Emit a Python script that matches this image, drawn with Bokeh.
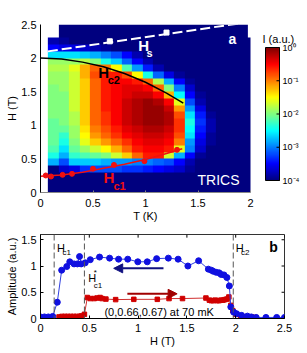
import numpy as np
from bokeh.plotting import figure
from bokeh.models import (LinearColorMapper, FixedTicker, Span, Arrow,
                          NormalHead, NumeralTickFormatter, Range1d, Label)
from bokeh.core.properties import value
from bokeh.layouts import column, row
from bokeh.embed import file_html
from bokeh.resources import INLINE

FONT = "Liberation Sans"

# ---------------- panel a data ----------------
# log10 intensity (x10) on a grid: columns T = 0.12 .. 2.02 (step 0.1), rows H = 0.05 .. 2.45 (step 0.1)
N = None
log_int_x10 = [
    [-40,-40,-40,-40,-40,-40,-40,-40,-40,-40,-40,-40,-40,-40,-40,-40,-40,-40,-40,-40],
    [-40,-40,-40,-40,-40,-40,-40,-40,-40,-40,-40,-40,-40,-40,-40,-40,-40,-40,-40,-40],
    [-40,-40,-40,-40,-40,-40,-40,-40,-40,-40,-40,-40,-40,-40,-40,-40,-40,-40,-40,-40],
    [-40,-37,-36,-33,-32,-32,-32,-33,-33,-34,-35,-36,-37,-39,-40,-40,-40,-40,-40,-40],
    [-28,-32,-27,-27,-27,-28,-29,-29,-30,-30,-31,-32,-35,-38,-40,-40,-40,-40,-40,-40],
    [-24,-28,-23,-22,-21,-20,-17,-13, -9, -6, -6,-17,-28,-35,-39,-40,-40,-40,-40,-40],
    [-22,-26,-21,-19,-17,-15,-12, -9, -6, -5, -5, -6,-16,-30,-37,-40,-40,-40,-40,-40],
    [-21,-24,-20,-16,-13,-11, -9, -7, -5, -4, -4, -5,-10,-29,-36,-39,-40,-40,-40,-40],
    [-21,-23,-19,-15,-11, -9, -7, -5, -4, -3, -3, -4, -8,-26,-35,-39,-40,-40,-40,-40],
    [-21,-21,-19,-14,-10, -8, -6, -4, -3, -2, -2, -3, -7,-25,-34,-38,-40,-40,-40,-40],
    [-21,-20,-18,-13, -9, -7, -5, -3, -2, -1, -1, -2, -7,-24,-33,-38,-40,-40,-40,-40],
    [-20,-20,-18,-13, -9, -7, -5, -3, -2, -1, -1, -2, -8,-26,-34,-39,-40,-40,-40,-40],
    [-20,-20,-17,-13, -9, -6, -5, -3, -2, -1, -1, -3,-11,-29,-36,-40,-40,-40,-40,-40],
    [-20,-20,-17,-13, -9, -6, -5, -3, -2, -1, -2, -5,-16,-32,-38,-40,-40,-40,-40,-40],
    [-20,-20,-17,-13, -9, -6, -5, -4, -3, -3, -5,-12,-25,-35,-39,-40,-40,-40,-40,-40],
    [-20,-19,-17,-13, -9, -6, -5, -4, -4, -5, -9,-20,-30,-37,-40,-40,-40,-40,-40,-40],
    [-19,-19,-17,-13, -9, -6, -5, -5, -6, -9,-18,-28,-35,-39,-40,-40,-40,-40,-40,-40],
    [-19,-19,-17,-12, -8, -6, -6, -8,-15,-24,-31,-36,-39,-40,-40,-40,-40,-40,-40,-40],
    [-18,-18,-16,-12, -9,-10,-15,-22,-29,-34,-38,-40,-40,-40,-40,-40,-40,-40,-40,-40],
    [-19,-19,-19,-18,-20,-24,-27,-31,-35,-38,-40,-40,-40,-40,-40,-40,-40,-40,-40,-40],
    [-26,-26,-26,-27,-28,-30,-32,-35,-38,-40,-40,-40,-40,-40,-40,-40,-40,-40,-40,-40],
    [-35,-36,-36,-37,-38,-39,-40,-40,-40,-40,-40,-40,-40,-40,-40,-40,-40,-40,-40,-40],
    [-38,-39,-40,-40,-40,-40,-40,-40,-40,-40,-40,-40,-40,-40,-40,-40,-40,-40,-40,-40],
    [  N,-40,-40,-40,-40,-40,-40,-40,-40,-40,-40,-40,-40,-40,-40,-40,-40,-40,-40,  N],
    [  N,-40,-40,-40,-40,-40,-40,-40,-40,-40,-40,-40,-40,-40,-40,-40,-40,-40,-40,  N],
]
grid_T_start, grid_T_step = 0.07, 0.1
grid_H_start, grid_H_step = 0.0, 0.1

T_hs = [0.66, 1.20]
H_hs = [2.25, 2.38]
T_hs_fit = [0.07, 2.0]
H_hs_fit = [2.10, 2.54]

T_hc2 = [0.0, 0.2, 0.4, 0.6, 0.8, 1.0, 1.2, 1.36]
H_hc2 = [2.0, 1.985, 1.94, 1.87, 1.77, 1.64, 1.48, 1.33]

T_hc1 = [0.05, 0.10, 0.21, 0.30, 0.50, 0.70, 0.99, 1.30]
H_hc1 = [0.253, 0.238, 0.263, 0.278, 0.353, 0.41, 0.466, 0.635]
T_hc1_fit = [0.0, 0.2, 0.4, 0.6, 0.8, 1.0, 1.2, 1.35]
H_hc1_fit = [0.24, 0.26, 0.30, 0.36, 0.42, 0.49, 0.58, 0.65]

cbar_low, cbar_high = -4, 0
cbar_ticks = [-4, -3, -2, -1, 0]
cbar_labels = ["10\u207b\u2074", "10\u207b\u00b3", "10\u207b\u00b2", "10\u207b\u00b9", "10\u2070"]

# ---------------- panel b data ----------------
blue_H = [0.0, 0.04, 0.08, 0.125, 0.172, 0.217, 0.269, 0.30, 0.344, 0.378, 0.40, 0.417,
          0.458, 0.51, 0.605, 0.708, 0.80, 0.894, 0.997, 1.094, 1.19, 1.31, 1.41, 1.51,
          1.62, 1.72, 1.75, 1.77, 1.80, 1.83, 1.85, 1.88, 1.91, 1.935, 1.95, 1.98, 2.01,
          2.06, 2.12, 2.16, 2.21, 2.31, 2.42, 2.5]
blue_A = [0.03, 0.03, 0.03, 0.04, 0.31, 0.92, 0.99, 1.08, 1.04, 1.04, 1.18, 1.04,
          1.06, 1.12, 1.17, 1.15, 1.13, 1.13, 1.08, 1.08, 1.14, 1.15, 1.13, 1.00,
          1.10, 0.94, 0.92, 0.90, 0.88, 0.87, 0.84, 0.83, 0.78, 0.62, 0.22, 0.12, 0.09,
          0.06, 0.045, 0.03, 0.02, 0.02, 0.02, 0.02]

red_H = [0.19, 0.22, 0.25, 0.28, 0.31, 0.34, 0.37, 0.40, 0.42, 0.45, 0.48, 0.51, 0.55,
         0.58, 0.61, 0.63, 0.67, 0.77, 0.956, 1.197, 1.317, 1.455, 1.695, 1.73, 1.75,
         1.77, 1.79, 1.81, 1.83, 1.85, 1.87, 1.89, 1.91, 1.93, 1.95, 1.97, 2.0, 2.05,
         2.1, 2.16, 2.2]
red_A = [0.03, 0.04, 0.04, 0.04, 0.04, 0.04, 0.04, 0.04, 0.05, 0.08, 0.40, 0.38, 0.38,
         0.39, 0.40, 0.38, 0.37, 0.36, 0.365, 0.365, 0.38, 0.38, 0.39, 0.35, 0.34,
         0.34, 0.35, 0.34, 0.34, 0.35, 0.35, 0.36, 0.37, 0.41, 0.25, 0.15, 0.08, 0.04,
         0.03, 0.03, 0.02]

crit_fields = [0.14, 0.45, 1.975]

xa_ticks = [0, 0.5, 1, 1.5, 2]
ya_ticks = [0, 0.5, 1, 1.5, 2, 2.5]
xb_ticks = [0, 0.5, 1, 1.5, 2, 2.5]
yb_ticks = [0, 0.5, 1, 1.5]


def jet(n=256):
    x = np.linspace(0, 1, n)
    r = np.clip(1.5 - np.abs(4 * x - 3), 0, 1)
    g = np.clip(1.5 - np.abs(4 * x - 2), 0, 1)
    b = np.clip(1.5 - np.abs(4 * x - 1), 0, 1)
    return ["#%02x%02x%02x" % (int(rr * 255), int(gg * 255), int(bb * 255)) for rr, gg, bb in zip(r, g, b)]


def style_axis(ax, ticks, label, tick_in=3, standoff=5):
    ax.ticker = FixedTicker(ticks=ticks)
    ax.formatter = NumeralTickFormatter(format="0.[0]")
    ax.axis_label = label
    ax.major_label_text_font = FONT
    ax.major_label_text_font_size = "11px"
    ax.major_label_text_color = "black"
    ax.axis_label_text_font = FONT
    ax.axis_label_text_font_size = "11px"
    ax.axis_label_text_font_style = "normal"
    ax.axis_label_text_color = "black"
    ax.minor_tick_line_color = None
    ax.major_tick_in = tick_in
    ax.major_tick_out = 0
    ax.major_label_standoff = standoff
    ax.axis_label_standoff = 0
    ax.axis_line_color = "black"
    ax.major_tick_line_color = "black"


def lab(p, x, y, text, size, color, bold=False, align="left"):
    p.add_layout(Label(x=x, y=y, text=text, text_font=FONT, text_font_size=f"{size}px",
                       text_color=color, text_font_style="bold" if bold else "normal",
                       text_align=align, text_baseline="middle"))


# ================= panel a =================
arr = np.array([[np.nan if v is None else v / 10.0 for v in row_] for row_ in log_int_x10])
nrow, ncol = arr.shape
mapper = LinearColorMapper(palette=jet(), low=cbar_low, high=cbar_high, nan_color="white")

pa = figure(width=257, height=224, x_range=Range1d(0, 2), y_range=Range1d(0, 2.5),
            output_backend="svg", toolbar_location=None,
            min_border_left=40, min_border_right=7, min_border_top=24, min_border_bottom=32)
pa.grid.visible = False
pa.outline_line_color = None
pa.image(image=[arr], x=grid_T_start, y=grid_H_start, dw=ncol * grid_T_step,
         dh=nrow * grid_H_step, color_mapper=mapper)

pa.line(T_hs_fit, H_hs_fit, line_color="white", line_width=2, line_dash="10 4")
pa.scatter(T_hs, H_hs, marker="square", size=5, fill_color="white", line_color="white")
pa.line(T_hc2, H_hc2, line_color="black", line_width=1.5)
pa.line(T_hc1_fit, H_hc1_fit, line_color="#f01010", line_width=1.5)
pa.scatter(T_hc1, H_hc1, marker="circle", size=5, fill_color="#f01010", line_color="#f01010")

for ax in pa.xaxis:
    style_axis(ax, xa_ticks, "T (K)", tick_in=2, standoff=6)
    ax.axis_line_color = "#888888"
    ax.major_tick_line_color = "#888888"
for ax in pa.yaxis:
    style_axis(ax, ya_ticks, "H (T)", tick_in=0, standoff=4)

lab(pa, 0.93, 2.19, "H", 15, "white", True)
lab(pa, 1.01, 2.08, "s", 11, "white", True)
lab(pa, 0.55, 1.79, "H", 15, "black", True)
lab(pa, 0.64, 1.67, "c2", 11, "black", True)
lab(pa, 0.60, 0.22, "H", 15, "#f01010", True)
lab(pa, 0.695, 0.10, "c1", 11, "#f01010", True)
lab(pa, 1.79, 2.28, "a", 14, "white", True)
lab(pa, 1.495, 0.19, "TRICS", 14, "white")

# ---- colour bar: its own narrow figure; y axis is log10(I), x is pixels ----
# the frame spans screen y 24..192 (same borders as panel a);
# the bar spans screen y 47 (10^0) .. 180 (10^-4)
px_per_dec = 133 / 4.0
cb_top = cbar_high + (47 - 24) / px_per_dec
cb_bottom = cb_top - (192 - 24) / px_per_dec
pc = figure(width=50, height=224, title=None,
            x_range=Range1d(0, 50), y_range=Range1d(cb_bottom, cb_top),
            output_backend="svg", toolbar_location=None,
            x_axis_location=None, y_axis_location=None,
            min_border_left=0, min_border_right=0, min_border_top=24, min_border_bottom=32)
pc.grid.visible = False
pc.outline_line_color = None
grad = np.linspace(cbar_low, cbar_high, 256).reshape(-1, 1)
pc.image(image=[grad], x=8, y=cbar_low, dw=14, dh=cbar_high - cbar_low, color_mapper=mapper)
pc.quad(left=[8], right=[22], bottom=[cbar_low], top=[cbar_high],
        fill_color=None, line_color="black", line_width=1)
pc.segment(x0=[22] * len(cbar_ticks), y0=cbar_ticks, x1=[19] * len(cbar_ticks), y1=cbar_ticks,
           line_color="black", line_width=1)
pc.text(x=[25] * len(cbar_ticks), y=cbar_ticks, text=cbar_labels,
        text_font=value(FONT), text_font_size="9px", text_baseline="middle",
        text_color="black")
pc.text(x=[5], y=[cbar_high + 9 / px_per_dec], text=["I (a.u.)"],
        text_font=value(FONT), text_font_size="11px", text_baseline="middle",
        text_color="black")

# ================= panel b =================
pb = figure(width=307, height=129, x_range=Range1d(0, 2.5), y_range=Range1d(0, 1.6),
            output_backend="svg", toolbar_location=None,
            min_border_left=40, min_border_right=23, min_border_top=10, min_border_bottom=35)
pb.grid.visible = False
pb.outline_line_color = "#333333"

for xc in crit_fields:
    pb.add_layout(Span(location=xc, dimension="height", line_color="#555555",
                       line_width=1, line_dash="6 3"))

pb.line(red_H, red_A, line_color="#d03030", line_width=1)
pb.scatter(red_H, red_A, marker="square", size=4.5, fill_color="#d00000", line_color="#d00000")
pb.line(blue_H, blue_A, line_color="#3040e0", line_width=1)
pb.scatter(blue_H, blue_A, marker="circle", size=6, fill_color="#1010e0", line_color="#1010e0")

pb.add_layout(Arrow(x_start=1.26, y_start=0.955, x_end=0.75, y_end=0.955,
                    line_color="#101080", line_width=2,
                    end=NormalHead(size=9, fill_color="#101080", line_color="#101080")))
pb.add_layout(Arrow(x_start=0.89, y_start=0.47, x_end=1.40, y_end=0.47,
                    line_color="#a00000", line_width=2,
                    end=NormalHead(size=9, fill_color="#a00000", line_color="#a00000")))

for ax in pb.xaxis:
    style_axis(ax, xb_ticks, "H (T)", tick_in=3, standoff=5)
for ax in pb.yaxis:
    style_axis(ax, yb_ticks, "Amplitude (a.u.)", tick_in=3, standoff=4)

# mirrored ticks on the top and right edges of the box
ytop = pb.y_range.end
xright = pb.x_range.end
pb.segment(x0=xb_ticks, y0=[ytop] * len(xb_ticks), x1=xb_ticks,
           y1=[ytop - 0.06] * len(xb_ticks), line_color="black", line_width=1)
pb.segment(x0=[xright] * len(yb_ticks), y0=yb_ticks, x1=[xright - 0.03] * len(yb_ticks),
           y1=yb_ticks, line_color="black", line_width=1)

lab(pb, 0.17, 1.35, "H", 11, "black")
lab(pb, 0.225, 1.25, "c1", 8, "black")
lab(pb, 0.49, 0.77, "H", 11, "black")
lab(pb, 0.545, 0.88, "*", 8, "black")
lab(pb, 0.545, 0.63, "c1", 8, "black")
lab(pb, 2.0, 1.35, "H", 11, "black")
lab(pb, 2.055, 1.26, "c2", 8, "black")
lab(pb, 2.345, 1.37, "b", 14, "black", True)
lab(pb, 0.655, 0.12, "(0,0.66,0.67) at 70 mK", 11, "black")

layout = column(row(pa, pc), pb)
open("out.html", "w").write(file_html(layout, INLINE))
